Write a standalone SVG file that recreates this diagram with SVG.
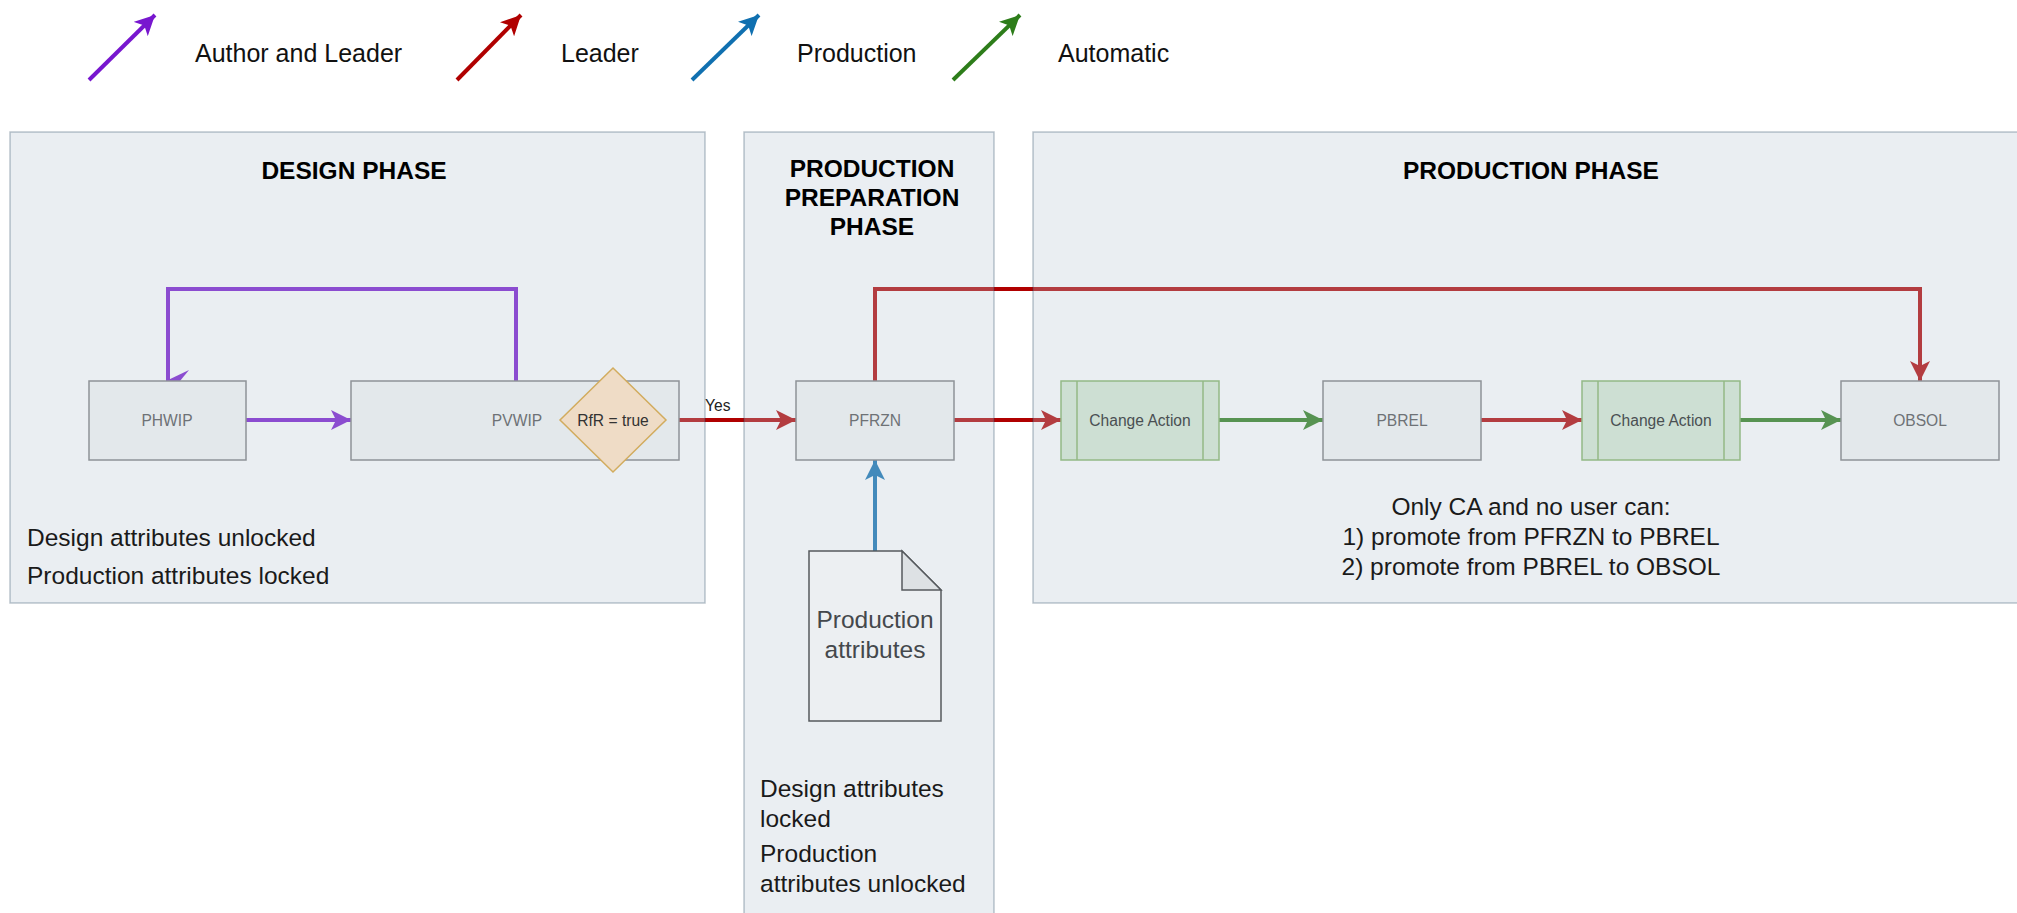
<svg xmlns="http://www.w3.org/2000/svg" width="2017" height="913" viewBox="0 0 2017 913">
<style>
text{font-family:"Liberation Sans",Arial,sans-serif}
.lg{font-size:25px;fill:#111}
.ttl{font-size:24.5px;font-weight:bold;fill:#000;text-anchor:middle}
.body{font-size:24.5px;fill:#1a1a1a}
.panel{fill:#bac8d3;fill-opacity:0.3;stroke:#23445d;stroke-opacity:0.3;stroke-width:1.5}
.st{fill:#e3e8eb;stroke:#8e9398;stroke-width:1.5}
.ca{fill:#cddfd3;stroke:#93b986;stroke-width:1.5}
.nl{font-size:15.6px;fill:#6e7276;text-anchor:middle}
.cl{font-size:15.6px;fill:#4a4f52;text-anchor:middle}
.e{fill:none;stroke-width:4}
.pu{stroke:#7817cf}
.rd{stroke:#b00000}
.bl{stroke:#1070b0}
.gr{stroke:#2d7d1a}
</style>
<defs>
<marker id="aPu" markerUnits="userSpaceOnUse" markerWidth="20" markerHeight="20" refX="20" refY="10" orient="auto" viewBox="0 0 20 20"><path d="M0,0 L20,10 L0,20 L5,10 Z" fill="#7817cf"/></marker>
<marker id="aRd" markerUnits="userSpaceOnUse" markerWidth="20" markerHeight="20" refX="20" refY="10" orient="auto" viewBox="0 0 20 20"><path d="M0,0 L20,10 L0,20 L5,10 Z" fill="#b00000"/></marker>
<marker id="aBl" markerUnits="userSpaceOnUse" markerWidth="20" markerHeight="20" refX="20" refY="10" orient="auto" viewBox="0 0 20 20"><path d="M0,0 L20,10 L0,20 L5,10 Z" fill="#1070b0"/></marker>
<marker id="aGr" markerUnits="userSpaceOnUse" markerWidth="20" markerHeight="20" refX="20" refY="10" orient="auto" viewBox="0 0 20 20"><path d="M0,0 L20,10 L0,20 L5,10 Z" fill="#2d7d1a"/></marker>
</defs>
<rect x="0" y="0" width="2017" height="913" fill="#ffffff"/>

<g id="legend">
<line class="e pu" x1="89" y1="80" x2="155" y2="15" stroke-width="3.5" marker-end="url(#aPu)"/>
<text class="lg" x="195" y="62">Author and Leader</text>
<line class="e rd" x1="457" y1="80" x2="521" y2="15" stroke-width="3.5" marker-end="url(#aRd)"/>
<text class="lg" x="561" y="62">Leader</text>
<line class="e bl" x1="692" y1="80" x2="759" y2="15" stroke-width="3.5" marker-end="url(#aBl)"/>
<text class="lg" x="797" y="62">Production</text>
<line class="e gr" x1="953" y1="80" x2="1020" y2="15" stroke-width="3.5" marker-end="url(#aGr)"/>
<text class="lg" x="1058" y="62">Automatic</text>
</g>

<g id="connectors">
<path class="e pu" d="M246,420 H351" marker-end="url(#aPu)"/>
<path class="e pu" d="M516,381 V289 H168 V381"/>
<polygon points="166,381 189,370 180,381" fill="#7817cf"/>
<path class="e rd" d="M666,420 H796" marker-end="url(#aRd)"/>
<text x="705" y="411" font-size="15.6" fill="#222">Yes</text>
<path class="e rd" d="M954,420 H1061" marker-end="url(#aRd)"/>
<path class="e gr" d="M1219,420 H1323" marker-end="url(#aGr)"/>
<path class="e rd" d="M1481,420 H1582" marker-end="url(#aRd)"/>
<path class="e gr" d="M1740,420 H1841" marker-end="url(#aGr)"/>
<path class="e rd" d="M875,381 V289 H1920 V381" marker-end="url(#aRd)"/>
<path class="e bl" d="M875,551 V460" marker-end="url(#aBl)"/>
</g>

<g id="design-phase">
<rect class="panel" x="10" y="132" width="695" height="471"/>
<text class="ttl" x="354" y="179">DESIGN PHASE</text>
<text class="body" x="27" y="546">Design attributes unlocked</text>
<text class="body" x="27" y="584">Production attributes locked</text>
</g>

<g id="production-preparation-phase">
<rect class="panel" x="744" y="132" width="250" height="790"/>
<text class="ttl" x="872" y="177">PRODUCTION</text>
<text class="ttl" x="872" y="206">PREPARATION</text>
<text class="ttl" x="872" y="235">PHASE</text>
<text class="body" x="760" y="797">Design attributes</text>
<text class="body" x="760" y="827">locked</text>
<text class="body" x="760" y="862">Production</text>
<text class="body" x="760" y="892">attributes unlocked</text>
</g>

<g id="production-phase">
<rect class="panel" x="1033" y="132" width="1000" height="471"/>
<text class="ttl" x="1531" y="179">PRODUCTION PHASE</text>
<text class="body" x="1531" y="515" text-anchor="middle" fill="#333">Only CA and no user can:</text>
<text class="body" x="1531" y="545" text-anchor="middle" fill="#333">1) promote from PFRZN to PBREL</text>
<text class="body" x="1531" y="575" text-anchor="middle" fill="#333">2) promote from PBREL to OBSOL</text>
</g>

<g id="PHWIP">
<rect class="st" x="89" y="381" width="157" height="79"/>
<text class="nl" x="167" y="426">PHWIP</text>
</g>

<g id="PVWIP">
<rect class="st" x="351" y="381" width="328" height="79"/>
<text class="nl" x="517" y="426">PVWIP</text>
</g>

<g id="RfR">
<polygon points="613,368 666,420 613,472 560,420" fill="#efdcc6" stroke="#d2ac5e" stroke-width="1.5"/>
<text x="613" y="426" font-size="15.6" fill="#333" text-anchor="middle">RfR = true</text>
</g>

<g id="PFRZN">
<rect class="st" x="796" y="381" width="158" height="79"/>
<text class="nl" x="875" y="426">PFRZN</text>
</g>

<g id="ChangeAction1">
<rect class="ca" x="1061" y="381" width="158" height="79"/>
<line x1="1077" y1="381" x2="1077" y2="460" stroke="#93b986" stroke-width="1.5"/>
<line x1="1203" y1="381" x2="1203" y2="460" stroke="#93b986" stroke-width="1.5"/>
<text class="cl" x="1140" y="426">Change Action</text>
</g>

<g id="PBREL">
<rect class="st" x="1323" y="381" width="158" height="79"/>
<text class="nl" x="1402" y="426">PBREL</text>
</g>

<g id="ChangeAction2">
<rect class="ca" x="1582" y="381" width="158" height="79"/>
<line x1="1598" y1="381" x2="1598" y2="460" stroke="#93b986" stroke-width="1.5"/>
<line x1="1724" y1="381" x2="1724" y2="460" stroke="#93b986" stroke-width="1.5"/>
<text class="cl" x="1661" y="426">Change Action</text>
</g>

<g id="OBSOL">
<rect class="st" x="1841" y="381" width="158" height="79"/>
<text class="nl" x="1920" y="426">OBSOL</text>
</g>

<g id="ProductionAttributes">
<path d="M809,551 H902 L941,590 V721 H809 Z" fill="#eceff2" stroke="#55595d" stroke-width="1.5"/>
<path d="M902,551 V590 H941 Z" fill="#dde1e4" stroke="#55595d" stroke-width="1.5"/>
<text x="875" y="628" font-size="24.5" fill="#44484c" text-anchor="middle">Production</text>
<text x="875" y="658" font-size="24.5" fill="#44484c" text-anchor="middle">attributes</text>
</g>
</svg>
